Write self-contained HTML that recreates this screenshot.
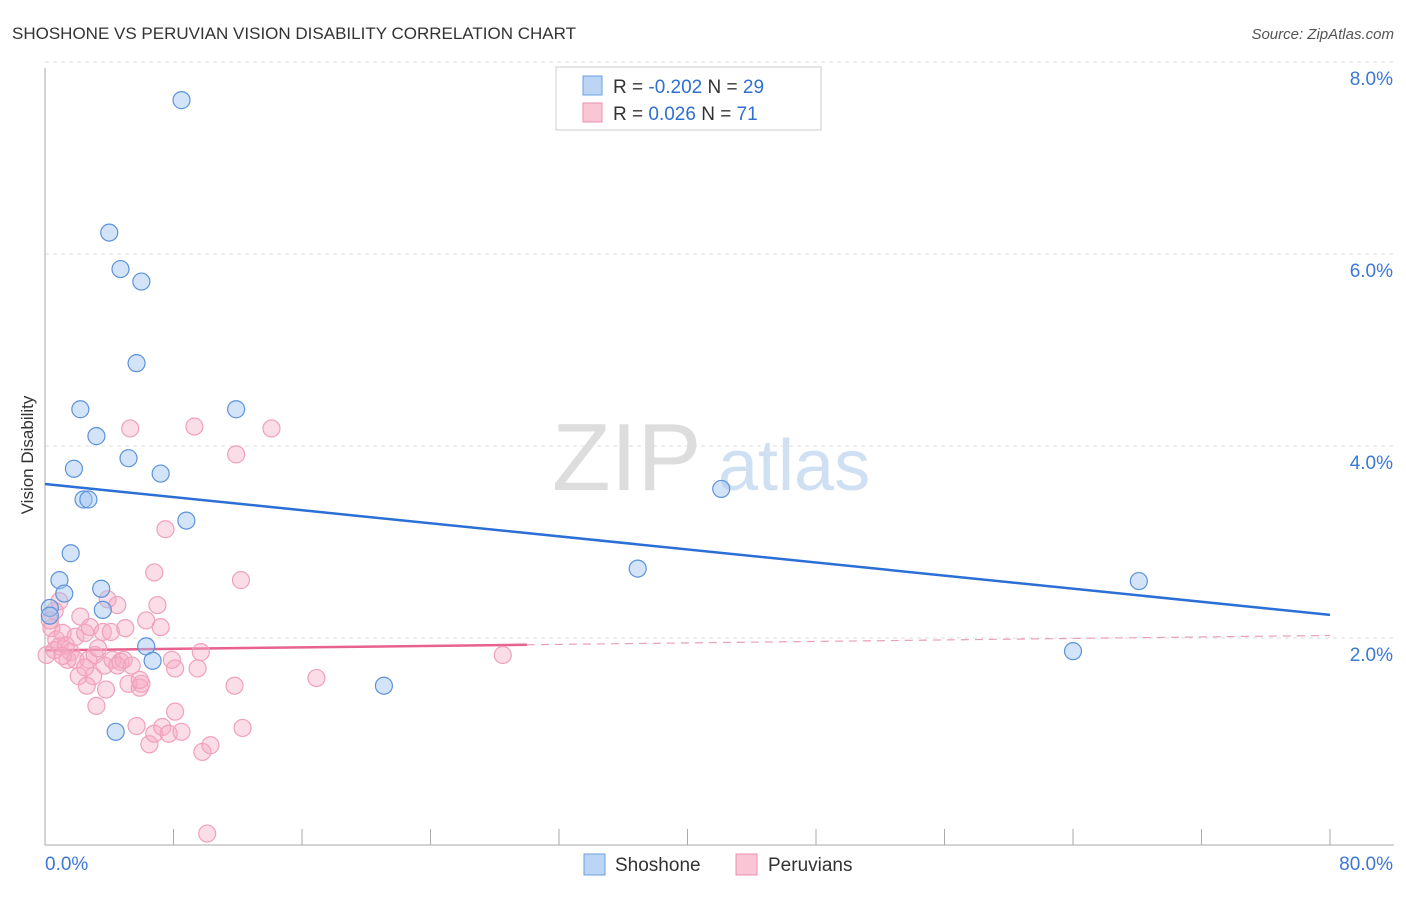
<!DOCTYPE html>
<html><head><meta charset="utf-8"><style>
body{margin:0;background:#fff;font-family:"Liberation Sans",sans-serif;}
svg text{font-family:"Liberation Sans",sans-serif;}
</style></head><body>
<svg width="1406" height="892" id="c">
<text x="12" y="39" font-size="17" fill="#333">SHOSHONE VS PERUVIAN VISION DISABILITY CORRELATION CHART</text>
<text x="1394" y="39" font-size="15" fill="#555" text-anchor="end" font-style="italic">Source: ZipAtlas.com</text>
<text x="33" y="455" font-size="17" fill="#333" transform="rotate(-90 33 455)" text-anchor="middle">Vision Disability</text>
<g><text x="552" y="490" font-size="96" fill="#ddd" font-family="Liberation Serif">ZIP</text><text x="718" y="490" font-size="72" fill="#cfe0f3">atlas</text></g>
<g id="grid"></g><g id="axes"></g><g id="trend"></g><g id="pts"></g>
<g>
<rect x="556" y="67" width="265" height="63" fill="#fff" stroke="#ccc"/>
<rect x="583" y="76" width="19" height="19" fill="#bcd5f5" stroke="#6b9fe0"/>
<rect x="583" y="103" width="19" height="19" fill="#f9c6d6" stroke="#ee8fae"/>
<text x="613" y="93" font-size="19" fill="#333">R = <tspan fill="#2f6fcf">-0.202</tspan>   N = <tspan fill="#2f6fcf">29</tspan></text>
<text x="613" y="120" font-size="19" fill="#333">R =   <tspan fill="#2f6fcf">0.026</tspan>   N =  <tspan fill="#2f6fcf">71</tspan></text>
</g>
<g>
<rect x="584" y="854" width="21" height="21" fill="#bcd5f5" stroke="#6b9fe0"/><text x="615" y="871" font-size="19" fill="#333">Shoshone</text>
<rect x="736" y="854" width="21" height="21" fill="#f9c6d6" stroke="#ee8fae"/><text x="768" y="871" font-size="19" fill="#333">Peruvians</text>
</g>
</svg>
<script>
const yTicks=[2,4,6,8];
const xTickLabels=["0.0%","80.0%"];
const shoshoneX=[8.5,4,4.7,6,5.7,2.2,11.9,3.2,1.8,5.2,7.2,2.4,2.7,8.8,1.6,0.9,1.2,3.5,3.6,0.3,0.3,6.3,6.7,4.4,21.1,42.1,36.9,68.1,64];
const shoshoneY=[7.78,6.4,6.02,5.89,5.04,4.56,4.56,4.28,3.94,4.05,3.89,3.62,3.62,3.4,3.06,2.78,2.64,2.69,2.47,2.49,2.41,2.09,1.94,1.2,1.68,3.73,2.9,2.77,2.04];
const peruX=[0.6,0.4,0.7,0.9,0.6,1.1,1.3,1.6,1.4,1.9,2.2,2.5,2.8,1.9,2.1,2.7,3.1,3,2.6,3.2,3.7,3.8,3.6,4.1,3.9,4.5,4.2,4.7,4.9,5.0,5.3,5.4,5.2,5.9,6,5.7,6.3,6.8,7,7.2,7.5,6.5,6.8,7.3,7.7,7.9,8.1,8.1,8.5,9.3,9.5,9.7,9.8,10.3,10.1,11.9,12.2,11.8,12.3,14.1,16.9,28.5,0.1,0.3,1.1,3.3,4.5,5.9,0.9,2.5];
const peruY=[2.46,2.28,2.16,2.09,2.05,2.23,2.1,2.03,1.95,2.19,2.4,2.23,2.29,1.95,1.78,1.95,2.0,1.78,1.68,1.47,1.89,1.64,2.24,2.24,2.58,2.52,1.95,1.93,1.95,2.28,4.36,1.89,1.7,1.66,1.7,1.26,2.36,2.86,2.52,2.29,3.31,1.07,1.18,1.25,1.18,1.95,1.41,1.86,1.2,4.38,1.86,2.03,0.99,1.06,0.14,4.09,2.78,1.68,1.24,4.36,1.76,2.0,2.0,2.36,1.99,2.07,1.89,1.74,2.56,1.87];
const X0=45,X1=1330,Y0=847,PY=96;
const sx=v=>X0+(X1-X0)*v/80, sy=v=>Y0-v*PY;
const NS="http://www.w3.org/2000/svg";
function mk(t,a,p){const e=document.createElementNS(NS,t);for(const k in a)e.setAttribute(k,a[k]);document.getElementById(p).appendChild(e);return e;}
yTicks.forEach(v=>{
 const l=mk("line",{x1:X0,x2:1394,y1:sy(v)-17,y2:sy(v)-17,stroke:"#ddd","stroke-dasharray":"4,4"},"grid");
 
 
 const t=mk("text",{x:1393,y:sy(v)+6,"font-size":19,fill:"#3b78d8","text-anchor":"end"},"grid");t.textContent=v.toFixed(1)+"%";
 
 
});
mk("line",{x1:X0,x2:X0,y1:68,y2:845,stroke:"#aaa"},"axes");
mk("line",{x1:X0,x2:1394,y1:845,y2:845,stroke:"#aaa"},"axes");
for(let i=0;i<=10;i++){const t=mk("line",{x1:sx(i*8),x2:sx(i*8),y1:829,y2:845,stroke:"#aaa"},"axes");}
[[0,45,"start"],[1,1393,"end"]].forEach(([i,x,a])=>{const t=mk("text",{x:x,y:870,"font-size":19,fill:"#3b78d8","text-anchor":a},"axes");t.textContent=xTickLabels[i];});
function fit(xs,ys){const n=xs.length;let mx=0,my=0;xs.forEach((v,i)=>{mx+=v;my+=ys[i]});mx/=n;my/=n;let a=0,b=0;xs.forEach((v,i)=>{a+=(v-mx)*(ys[i]-my);b+=(v-mx)**2});const s=a/b;return [s,my-s*mx];}
const [bs,bi]=fit(shoshoneX,shoshoneY);
let e=mk("line",{x1:sx(0),y1:sy(bi),x2:sx(80),y2:sy(bi+bs*80),stroke:"#2a6fd6","stroke-width":2.5},"trend");


const [ps,pi]=fit(peruX,peruY);
e=mk("line",{x1:sx(0),y1:sy(pi),x2:sx(30),y2:sy(pi+ps*30),stroke:"#e8628e","stroke-width":2.5},"trend");


e=mk("line",{x1:sx(30),y1:sy(pi+ps*30),x2:sx(80),y2:sy(pi+ps*80),stroke:"#e8a0b8","stroke-width":1.2,"stroke-dasharray":"8,6"},"trend");


peruX.forEach((v,i)=>{const c=mk("circle",{cx:sx(v),cy:sy(peruY[i]),r:8.5,fill:"rgba(246,170,195,0.4)",stroke:"#f0a0bb","stroke-width":1.2},"pts");});
shoshoneX.forEach((v,i)=>{const c=mk("circle",{cx:sx(v),cy:sy(shoshoneY[i]),r:8.5,fill:"rgba(160,195,240,0.45)",stroke:"#5b93dc","stroke-width":1.2},"pts");});
</script>
</body></html>
